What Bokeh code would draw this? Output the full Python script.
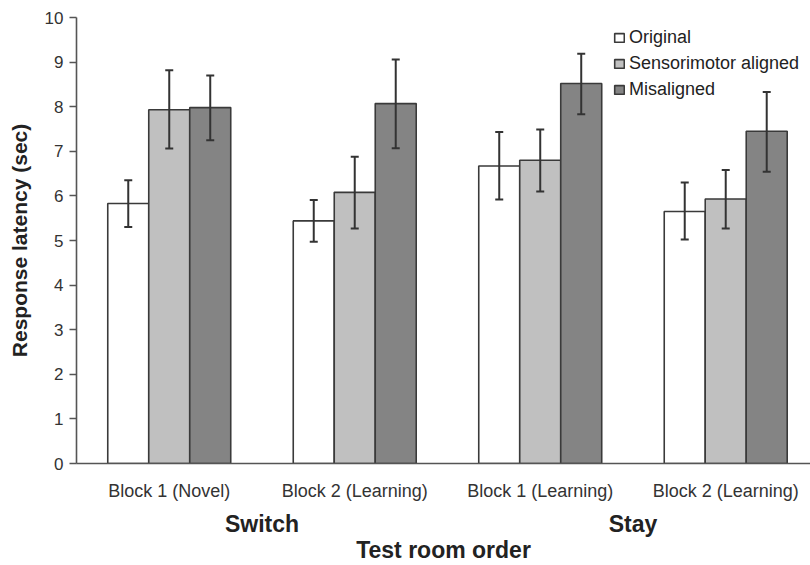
from bokeh.plotting import figure
from bokeh.models import (ColumnDataSource, Range1d, FixedTicker, LinearAxis,
                          Whisker, TeeHead, Legend, LegendItem)
from bokeh.transform import dodge
from bokeh.embed import file_html
from bokeh.resources import INLINE

# ---- data ----
groups = ["Block 1 (Novel)", "Block 2 (Learning)", "Block 1 (Learning)", "Block 2 (Learning)"]
group_pos = [0.5, 1.5, 2.5, 3.5]
super_labels = ["Switch", "Stay"]
super_pos = [1.0, 3.0]
series = ["Original", "Sensorimotor aligned", "Misaligned"]
original = [5.83, 5.44, 6.67, 5.65]
original_hi = [6.35, 5.91, 7.43, 6.30]
original_lo = [5.30, 4.97, 5.92, 5.02]
sensorimotor = [7.93, 6.08, 6.80, 5.93]
sensorimotor_hi = [8.82, 6.88, 7.49, 6.58]
sensorimotor_lo = [7.06, 5.27, 6.10, 5.27]
misaligned = [7.98, 8.07, 8.52, 7.45]
misaligned_hi = [8.70, 9.06, 9.19, 8.33]
misaligned_lo = [7.25, 7.07, 7.83, 6.54]
y_ticks = list(range(0, 11))
y_title = "Response latency (sec)"
x_title = "Test room order"

FONT = "Liberation Sans"
colors = ["#ffffff", "#c0c0c0", "#848484"]
bar_w = 0.221
offsets = [-bar_w, 0.0, bar_w]

p = figure(width=810, height=565, output_backend="svg", toolbar_location=None,
           x_range=Range1d(0, 3.957), y_range=Range1d(0, 10))
p.min_border_left = 76
p.min_border_right = 0
p.min_border_top = 17
p.min_border_bottom = 100
p.outline_line_color = None
p.xgrid.visible = False
p.ygrid.visible = False

src = ColumnDataSource(dict(x=group_pos,
                            v0=original, h0=original_hi, l0=original_lo,
                            v1=sensorimotor, h1=sensorimotor_hi, l1=sensorimotor_lo,
                            v2=misaligned, h2=misaligned_hi, l2=misaligned_lo))

items = []
for i, name in enumerate(series):
    r = p.vbar(x=dodge("x", offsets[i], range=p.x_range), top=f"v{i}", width=bar_w,
               source=src, fill_color=colors[i], line_color="#3a3a3a", line_width=1.6)
    items.append(LegendItem(label=name, renderers=[r]))
for i in range(3):
    w = Whisker(base=dodge("x", offsets[i], range=p.x_range), upper=f"h{i}", lower=f"l{i}",
                source=src, line_color="#333333", line_width=2, level="overlay",
                upper_head=TeeHead(size=8, line_color="#333333", line_width=2),
                lower_head=TeeHead(size=8, line_color="#333333", line_width=2))
    p.add_layout(w)

legend = Legend(items=items, location=(537, 363), border_line_color=None,
                background_fill_alpha=0, padding=0, margin=0, spacing=5,
                glyph_width=12, glyph_height=11, label_height=20, label_standoff=4,
                label_text_font=FONT, label_text_font_size="18px", label_text_color="#222222")
p.add_layout(legend)

# y axis
ya = p.yaxis[0]
ya.ticker = FixedTicker(ticks=y_ticks)
ya.minor_tick_line_color = None
ya.major_tick_in = 0
ya.major_tick_out = 7
ya.axis_line_color = "#555555"
ya.major_tick_line_color = "#555555"
ya.axis_line_width = 1.6
ya.major_tick_line_width = 1.3
ya.major_label_text_font = FONT
ya.major_label_text_font_size = "17px"
ya.major_label_text_color = "#333333"
ya.major_label_standoff = 6
ya.axis_label = y_title
ya.axis_label_text_font = FONT
ya.axis_label_text_font_size = "21px"
ya.axis_label_text_font_style = "bold"
ya.axis_label_text_color = "#222222"
ya.axis_label_standoff = 11

# x axis (block labels)
xa = p.xaxis[0]
xa.ticker = FixedTicker(ticks=group_pos)
xa.major_label_overrides = {g: l for g, l in zip(group_pos, groups)}
xa.minor_tick_line_color = None
xa.major_tick_in = 0
xa.major_tick_out = 0
xa.axis_line_color = "#555555"
xa.axis_line_width = 1.6
xa.major_label_text_font = FONT
xa.major_label_text_font_size = "18px"
xa.major_label_text_color = "#333333"
xa.major_label_standoff = 17

# second x axis (Switch / Stay)
xa2 = LinearAxis(ticker=FixedTicker(ticks=super_pos),
                 major_label_overrides={g: l for g, l in zip(super_pos, super_labels)})
xa2.axis_line_color = None
xa2.major_tick_line_color = None
xa2.minor_tick_line_color = None
xa2.major_tick_in = 0
xa2.major_tick_out = 0
xa2.major_label_text_font = FONT
xa2.major_label_text_font_size = "23px"
xa2.major_label_text_font_style = "bold"
xa2.major_label_text_color = "#222222"
xa2.major_label_standoff = 7
xa2.axis_label = x_title
xa2.axis_label_text_font = FONT
xa2.axis_label_text_font_size = "23px"
xa2.axis_label_text_font_style = "bold"
xa2.axis_label_text_color = "#222222"
xa2.axis_label_standoff = -3
p.add_layout(xa2, "below")

open("out.html", "w").write(file_html(p, INLINE))
